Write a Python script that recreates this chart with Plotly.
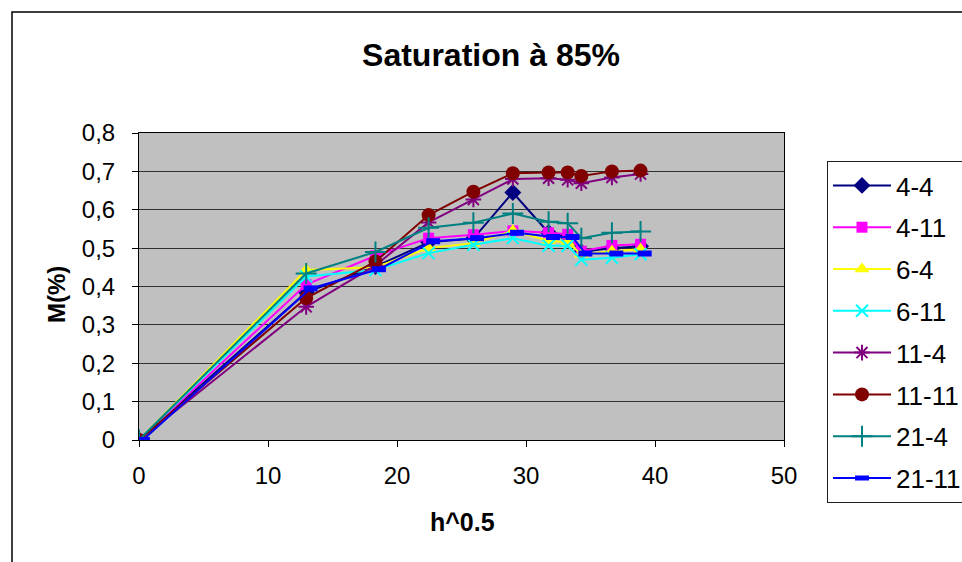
import plotly.graph_objects as go

# ---- data ----
x_vals = [0, 12.96, 18.33, 22.45, 25.92, 28.98, 31.75, 33.23, 34.29, 36.66, 38.88]
x_21_11 = [0.3, 13.3, 18.6, 22.8, 26.2, 29.3, 32.1, 33.6, 34.6, 37.0, 39.2]

s_4_4 = [0, 0.385, 0.452, 0.515, 0.525, 0.645, 0.54, 0.53, 0.49, 0.50, 0.505]
s_4_11 = [0, 0.405, 0.48, 0.526, 0.535, 0.545, 0.54, 0.536, 0.492, 0.507, 0.51]
s_6_4 = [0, 0.443, 0.45, 0.50, 0.513, 0.545, 0.519, 0.515, 0.484, 0.492, 0.497]
s_6_11 = [0, 0.426, 0.443, 0.487, 0.509, 0.526, 0.506, 0.506, 0.47, 0.475, 0.484]
s_11_4 = [0, 0.347, 0.455, 0.567, 0.627, 0.68, 0.682, 0.678, 0.669, 0.684, 0.693]
s_11_11 = [0, 0.37, 0.465, 0.586, 0.647, 0.695, 0.697, 0.697, 0.688, 0.70, 0.702]
s_21_4 = [0, 0.434, 0.49, 0.553, 0.566, 0.59, 0.569, 0.565, 0.526, 0.54, 0.543]
s_21_11 = [0, 0.395, 0.445, 0.518, 0.526, 0.54, 0.529, 0.529, 0.486, 0.486, 0.486]

y_tickvals = [0, 0.1, 0.2, 0.3, 0.4, 0.5, 0.6, 0.7, 0.8]
x_tickvals = [0, 10, 20, 30, 40, 50]

FONT = "Arial, Liberation Sans, sans-serif"

series = [
    ("4-4", x_vals, s_4_4, "#000080", dict(symbol="diamond", size=13, color="#000080")),
    ("4-11", x_vals, s_4_11, "#FF00FF", dict(symbol="square", size=11, color="#FF00FF")),
    ("6-4", x_vals, s_6_4, "#FFFF00", dict(symbol="triangle-up", size=13, color="#FFFF00")),
    ("6-11", x_vals, s_6_11, "#00FFFF", dict(symbol="x-thin", size=12, color="#00FFFF",
                                            line=dict(color="#00FFFF", width=2))),
    ("11-4", x_vals, s_11_4, "#800080", dict(symbol="asterisk", size=13, color="#800080",
                                            line=dict(color="#800080", width=2))),
    ("11-11", x_vals, s_11_11, "#800000", dict(symbol="circle", size=14, color="#800000")),
    ("21-4", x_vals, s_21_4, "#008080", dict(symbol="cross-thin", size=15, color="#008080",
                                            line=dict(color="#008080", width=2))),
    ("21-11", x_21_11, s_21_11, "#0000FF", dict(symbol="line-ew", size=10, color="#0000FF",
                                               line=dict(color="#0000FF", width=6))),
]

fig = go.Figure()
for name, xs, ys, col, mk in series:
    fig.add_trace(go.Scatter(
        x=xs, y=ys, name=name, mode="lines+markers",
        line=dict(color=col, width=2),
        marker=mk, legendgroup=name,
    ))

W, H = 962, 562
L, R, T, B = 139, 178, 133, 122
pw, ph = W - L - R, H - T - B

def px_x(p):
    return (p - L) / pw

def px_y(p):
    return (H - B - p) / ph

fig.update_layout(
    width=W, height=H,
    margin=dict(l=L, r=R, t=T, b=B, pad=0, autoexpand=False),
    paper_bgcolor="white",
    plot_bgcolor="#C0C0C0",
    separators=", ",
    font=dict(family=FONT, size=24, color="black"),
    title=dict(text="<b>Saturation à 85%</b>", x=491 / W, xref="container",
               xanchor="center", y=1 - 55 / H, yanchor="middle",
               font=dict(size=32, family=FONT, color="black")),
    showlegend=True,
    legend=dict(x=px_x(827), y=px_y(161), xanchor="left", yanchor="top",
                bgcolor="white", bordercolor="#202020", borderwidth=1,
                font=dict(size=26, family=FONT), tracegroupgap=5,
                itemwidth=58, traceorder="grouped", maxheight=420),
    xaxis=dict(range=[0, 50], tickvals=x_tickvals, showgrid=False, zeroline=False,
               showline=True, linecolor="black", linewidth=1, mirror=True,
               ticks="outside", ticklen=6, tickcolor="black", ticklabelstandoff=8,
               tickfont=dict(size=24, family=FONT)),
    yaxis=dict(range=[0, 0.8], tickvals=y_tickvals, showgrid=True,
               gridcolor="#303030", gridwidth=1, zeroline=False,
               showline=True, linecolor="black", linewidth=1, mirror=True,
               ticks="outside", ticklen=6, tickcolor="black", ticklabelstandoff=12,
               tickfont=dict(size=24, family=FONT)),
    annotations=[
        dict(text="<b>M(%)</b>", x=px_x(56), y=px_y(294), xref="paper", yref="paper",
             showarrow=False, textangle=-90, font=dict(size=24, family=FONT),
             xanchor="center", yanchor="middle"),
        dict(text="<b>h^0.5</b>", x=px_x(462), y=px_y(522), xref="paper", yref="paper",
             showarrow=False, font=dict(size=25, family=FONT),
             xanchor="center", yanchor="middle"),
    ],
    shapes=[
        dict(type="rect", xref="paper", yref="paper",
             x0=px_x(12), y0=px_y(575), x1=px_x(975), y1=px_y(12),
             line=dict(color="black", width=1.5), fillcolor="rgba(0,0,0,0)",
             layer="below"),
    ],
)

fig.write_html("out.html")
